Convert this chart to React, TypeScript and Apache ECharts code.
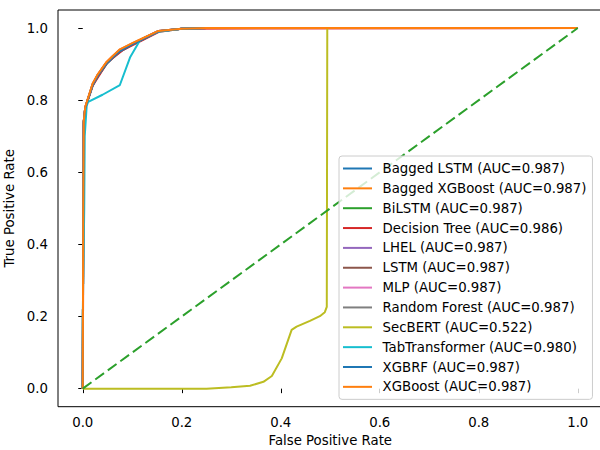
import React, { useEffect, useRef } from "react";
import * as echarts from "echarts";

const modelNames = [
  "Bagged LSTM",
  "Bagged XGBoost",
  "BiLSTM",
  "Decision Tree",
  "LHEL",
  "LSTM",
  "MLP",
  "Random Forest",
  "SecBERT",
  "TabTransformer",
  "XGBRF",
  "XGBoost",
];
const aucValues = [0.987, 0.987, 0.987, 0.986, 0.987, 0.987, 0.987, 0.987, 0.522, 0.98, 0.987, 0.987];
const modelColors = [
  "#1f77b4", "#ff7f0e", "#2ca02c", "#d62728", "#9467bd", "#8c564b",
  "#e377c2", "#7f7f7f", "#bcbd22", "#17becf", "#1f77b4", "#ff7f0e",
];

// ROC points per model (FPR, TPR)
const baggedLstmFpr = [0, 0.001, 0.002, 0.005, 0.01, 0.02, 0.03, 0.048, 0.06, 0.075, 0.1, 0.12, 0.153, 0.2, 0.25, 1];
const baggedLstmTpr = [0, 0.5, 0.74, 0.778, 0.8, 0.84, 0.865, 0.9, 0.916, 0.934, 0.954, 0.967, 0.991, 0.998, 1, 1];
const baggedXgbFpr = [0, 0.001, 0.002, 0.005, 0.01, 0.02, 0.03, 0.048, 0.06, 0.075, 0.1, 0.12, 0.153, 0.2, 0.25, 1];
const baggedXgbTpr = [0, 0.5, 0.742, 0.78, 0.802, 0.845, 0.87, 0.905, 0.921, 0.94, 0.957, 0.97, 0.992, 0.998, 1, 1];
const bilstmFpr = [0, 0.001, 0.002, 0.005, 0.01, 0.02, 0.03, 0.048, 0.06, 0.075, 0.1, 0.12, 0.153, 0.2, 0.25, 1];
const bilstmTpr = [0, 0.5, 0.74, 0.779, 0.801, 0.843, 0.868, 0.903, 0.919, 0.937, 0.956, 0.969, 0.991, 0.998, 1, 1];
const decisionTreeFpr = [0, 0.002, 0.005, 0.02, 0.05, 0.08, 0.12, 0.155, 0.2, 1];
const decisionTreeTpr = [0, 0.73, 0.778, 0.84, 0.905, 0.938, 0.966, 0.99, 0.998, 1];
const lhelFpr = [0, 0.001, 0.002, 0.005, 0.01, 0.02, 0.03, 0.048, 0.06, 0.075, 0.1, 0.12, 0.153, 0.2, 0.25, 1];
const lhelTpr = [0, 0.5, 0.741, 0.78, 0.801, 0.844, 0.869, 0.904, 0.92, 0.939, 0.957, 0.97, 0.992, 0.998, 1, 1];
const lstmFpr = [0, 0.001, 0.002, 0.005, 0.01, 0.02, 0.03, 0.048, 0.06, 0.075, 0.1, 0.12, 0.153, 0.2, 0.25, 1];
const lstmTpr = [0, 0.5, 0.738, 0.777, 0.799, 0.841, 0.866, 0.901, 0.917, 0.935, 0.955, 0.968, 0.991, 0.998, 1, 1];
const mlpFpr = [0, 0.001, 0.002, 0.005, 0.01, 0.02, 0.03, 0.048, 0.06, 0.075, 0.1, 0.12, 0.153, 0.2, 0.25, 1];
const mlpTpr = [0, 0.5, 0.741, 0.78, 0.802, 0.845, 0.87, 0.905, 0.921, 0.94, 0.957, 0.97, 0.992, 0.998, 1, 1];
const randomForestFpr = [0, 0.001, 0.002, 0.005, 0.01, 0.02, 0.03, 0.048, 0.06, 0.075, 0.1, 0.12, 0.153, 0.2, 0.25, 1];
const randomForestTpr = [0, 0.5, 0.74, 0.779, 0.801, 0.844, 0.869, 0.904, 0.92, 0.939, 0.957, 0.97, 0.992, 0.998, 1, 1];
const secbertFpr = [0, 0.25, 0.3, 0.338, 0.365, 0.382, 0.402, 0.422, 0.432, 0.459, 0.479, 0.489, 0.493, 0.494, 1];
const secbertTpr = [0, 0.0, 0.004, 0.008, 0.019, 0.035, 0.084, 0.163, 0.172, 0.188, 0.201, 0.212, 0.227, 1, 1];
const tabTransformerFpr = [0, 0.0, 0.003, 0.004, 0.008, 0.011, 0.04, 0.075, 0.096, 0.116, 0.153, 0.2, 0.25, 1];
const tabTransformerTpr = [0, 0.2, 0.5, 0.7, 0.785, 0.795, 0.815, 0.842, 0.92, 0.967, 0.99, 0.998, 1, 1];
const xgbrfFpr = [0, 0.001, 0.002, 0.005, 0.01, 0.02, 0.03, 0.048, 0.06, 0.075, 0.1, 0.12, 0.153, 0.2, 0.25, 1];
const xgbrfTpr = [0, 0.5, 0.739, 0.777, 0.8, 0.842, 0.867, 0.902, 0.918, 0.936, 0.955, 0.968, 0.991, 0.998, 1, 1];
const xgboostFpr = [0, 0.001, 0.002, 0.005, 0.01, 0.02, 0.03, 0.048, 0.06, 0.075, 0.1, 0.12, 0.153, 0.2, 0.25, 1];
const xgboostTpr = [0, 0.5, 0.742, 0.781, 0.803, 0.846, 0.871, 0.906, 0.922, 0.941, 0.958, 0.971, 0.992, 0.998, 1, 1];

const fprLists = [
  baggedLstmFpr, baggedXgbFpr, bilstmFpr, decisionTreeFpr, lhelFpr, lstmFpr,
  mlpFpr, randomForestFpr, secbertFpr, tabTransformerFpr, xgbrfFpr, xgboostFpr,
];
const tprLists = [
  baggedLstmTpr, baggedXgbTpr, bilstmTpr, decisionTreeTpr, lhelTpr, lstmTpr,
  mlpTpr, randomForestTpr, secbertTpr, tabTransformerTpr, xgbrfTpr, xgboostTpr,
];

const chanceFpr = [0, 1];
const chanceTpr = [0, 1];
const tickValues = [0, 0.2, 0.4, 0.6, 0.8, 1.0];

const FONT = "DejaVu Sans";
const FS = 13.3;

export default function App() {
  const ref = useRef<HTMLDivElement>(null);
  useEffect(() => {
    if (!ref.current) return;
    const chart = echarts.init(ref.current, null, { renderer: "svg" });
    const labels = modelNames.map((n, i) => `${n} (AUC=${aucValues[i].toFixed(3)})`);
    const series: any[] = modelNames.map((_, i) => ({
      type: "line",
      name: labels[i],
      data: fprLists[i].map((x, j) => [x, tprLists[i][j]]),
      showSymbol: false,
      symbol: "none",
      color: modelColors[i],
      itemStyle: { color: modelColors[i] },
      lineStyle: { color: modelColors[i], width: 2 },
      z: 2 + i * 0.01,
    }));
    series.push({
      type: "line",
      name: "chance",
      data: chanceFpr.map((x, j) => [x, chanceTpr[j]]),
      showSymbol: false,
      symbol: "none",
      color: "#2ca02c",
      lineStyle: { color: "#2ca02c", width: 2, type: [10.8, 4.7] },
      z: 3,
    });
    const axisCommon = {
      type: "value",
      min: -0.05,
      max: 1.05,
      splitLine: { show: false },
      axisLine: { show: false },
      axisTick: {
        show: true,
        inside: false,
        length: 4.5,
        lineStyle: { color: "#000", width: 1 },
        customValues: tickValues,
      },
      nameLocation: "middle",
      nameTextStyle: { fontFamily: FONT, fontSize: FS, color: "#000" },
    };
    chart.setOption({
      animation: false,
      backgroundColor: "#fff",
      grid: {
        left: 58,
        top: 10,
        width: 544.5,
        height: 396.7,
        show: true,
        borderColor: "#000",
        borderWidth: 1,
        backgroundColor: "transparent",
        containLabel: false,
        outerBoundsMode: "none",
      },
      xAxis: {
        ...axisCommon,
        name: "False Positive Rate",
        nameGap: 27.5,
        axisLabel: {
          customValues: tickValues,
          formatter: (v: number) => v.toFixed(1),
          margin: 9,
          fontFamily: FONT,
          fontSize: FS,
          color: "#000",
        },
      },
      yAxis: {
        ...axisCommon,
        name: "True Positive Rate",
        nameGap: 33,
        axisLabel: {
          customValues: tickValues,
          formatter: (v: number) => v.toFixed(1),
          margin: 10,
          fontFamily: FONT,
          fontSize: FS,
          color: "#000",
        },
      },
      legend: {
        data: labels,
        orient: "vertical",
        left: 339,
        top: 156,
        padding: [6, 6, 6, 4],
        itemGap: 6.85,
        itemWidth: 29,
        itemHeight: 2,
        icon: "rect",
        backgroundColor: "rgba(255,255,255,0.8)",
        borderColor: "#cccccc",
        borderWidth: 1,
        borderRadius: 3,
        selectedMode: false,
        textStyle: {
          fontFamily: FONT,
          fontSize: FS,
          color: "#000",
          lineHeight: 13,
          padding: [0, 0, 0, 5.6],
        },
      },
      series,
    });
    return () => chart.dispose();
  }, []);
  return (
    <div
      ref={ref}
      style={{ position: "fixed", left: 0, top: 0, width: 600, height: 450 }}
    />
  );
}
